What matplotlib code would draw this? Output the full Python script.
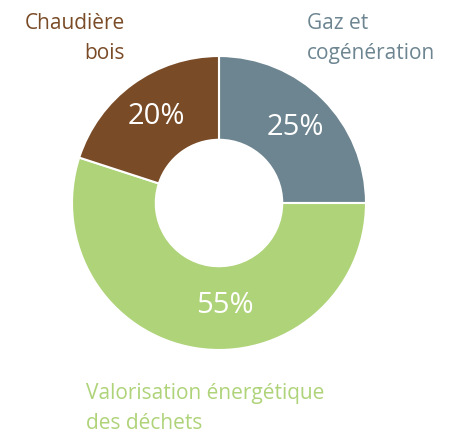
import matplotlib.pyplot as plt

labels = ["Gaz et\ncogénération", "Valorisation énergétique\ndes déchets", "Chaudière\nbois"]
shares = [25, 55, 20]
colors = ["#6d8591", "#afd379", "#7a4b27"]

plt.rcParams['font.family'] = ['Open Sans', 'DejaVu Sans']

W, H = 456, 434
fig = plt.figure(figsize=(W / 100, H / 100), dpi=100)

# donut: center (219, 203) px, radius 147 px
cx, cy, r = 219, 203, 147
ax = fig.add_axes([(cx - r) / W, (H - cy - r) / H, 2 * r / W, 2 * r / H])
wedges, texts, autotexts = ax.pie(
    shares, colors=colors, startangle=90, counterclock=False, radius=1,
    autopct='%d%%', pctdistance=0.73,
    wedgeprops=dict(width=0.57, edgecolor='white', linewidth=1.5),
    textprops=dict(color='white', fontsize=21))
autotexts[1].set_position((0.04, -0.70))
ax.set_xlim(-1, 1)
ax.set_ylim(-1, 1)
ax.set_aspect('equal')
ax.axis('off')

# outside labels
fig.text(125 / W, 1 - 13 / H, labels[2], color=colors[2], fontsize=15,
         ha='right', va='top', linespacing=1.55)
fig.text(307 / W, 1 - 13 / H, labels[0], color=colors[0], fontsize=15,
         ha='left', va='top', linespacing=1.55)
fig.text(86 / W, 1 - 383 / H, labels[1], color=colors[1], fontsize=15,
         ha='left', va='top', linespacing=1.55)

fig.savefig('out.png', dpi=100)
